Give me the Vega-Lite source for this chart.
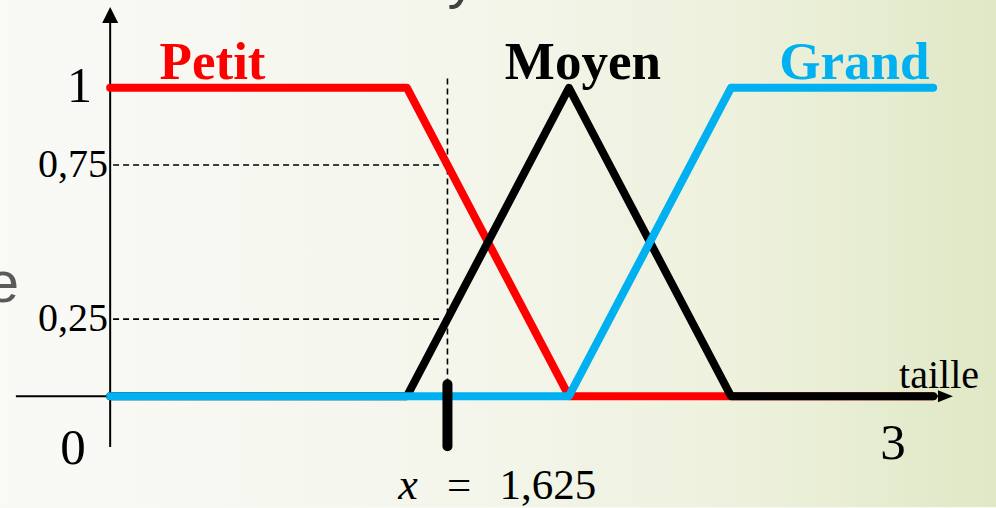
{
  "$schema": "https://vega.github.io/schema/vega-lite/v6.json",
  "width": 996,
  "height": 508,
  "autosize": {"type": "fit", "contains": "padding"},
  "padding": 0,
  "background": "#f8f9f4",
  "config": {
    "view": {
      "stroke": null,
      "fill": {
        "gradient": "linear",
        "x1": 0, "y1": 0.5, "x2": 1, "y2": 0.5,
        "stops": [
          {"offset": 0, "color": "#f9faf6"},
          {"offset": 0.45, "color": "#f4f6ec"},
          {"offset": 0.75, "color": "#edf1dc"},
          {"offset": 1, "color": "#e0e8c6"}
        ]
      }
    }
  },
  "datasets": {
    "curves": [
      {"set": "Petit", "x": 0.584, "y": 1},
      {"set": "Petit", "x": 1.5, "y": 1},
      {"set": "Petit", "x": 2.0, "y": 0},
      {"set": "Petit", "x": 3.124, "y": 0},
      {"set": "Moyen", "x": 0.584, "y": 0},
      {"set": "Moyen", "x": 1.5, "y": 0},
      {"set": "Moyen", "x": 2.0, "y": 1},
      {"set": "Moyen", "x": 2.5, "y": 0},
      {"set": "Moyen", "x": 3.124, "y": 0},
      {"set": "Grand", "x": 0.584, "y": 0},
      {"set": "Grand", "x": 2.0, "y": 0},
      {"set": "Grand", "x": 2.5, "y": 1},
      {"set": "Grand", "x": 3.124, "y": 1}
    ]
  },
  "encoding": {
    "x": {"field": "x", "type": "quantitative", "scale": {"domain": [0.244, 3.318], "nice": false, "zero": false}, "axis": null},
    "y": {"field": "y", "type": "quantitative", "scale": {"domain": [-0.3592, 1.2848], "nice": false, "zero": false}, "axis": null}
  },
  "layer": [
    {
      "data": {"values": [{"x": 0.293, "x2": 3.16, "y": 0}]},
      "mark": {"type": "rule", "color": "#000000", "strokeWidth": 2},
      "encoding": {"x2": {"field": "x2"}}
    },
    {
      "data": {"values": [{"x": 0.584, "y": -0.165, "y2": 1.236}]},
      "mark": {"type": "rule", "color": "#000000", "strokeWidth": 2},
      "encoding": {"y2": {"field": "y2"}}
    },
    {
      "data": {"values": [{"x": 0.584, "y": 1.236}]},
      "mark": {"type": "point", "shape": "M0,-1L1,1L-1,1Z", "size": 256, "filled": true, "color": "#000000", "opacity": 1, "strokeWidth": 0}
    },
    {
      "data": {"values": [{"x": 3.162, "y": 0}]},
      "mark": {"type": "point", "shape": "M1,0L-1,-0.8L-1,0.8Z", "size": 225, "filled": true, "color": "#000000", "opacity": 1, "strokeWidth": 0}
    },
    {
      "data": {"values": [{"x": 0.593, "x2": 1.625, "y": 0.75}, {"x": 0.593, "x2": 1.625, "y": 0.25}]},
      "mark": {"type": "rule", "color": "#000000", "strokeWidth": 1.6, "strokeDash": [6, 4]},
      "encoding": {"x2": {"field": "x2"}}
    },
    {
      "data": {"values": [{"x": 1.625, "y": 1.03, "y2": 0.04}]},
      "mark": {"type": "rule", "color": "#000000", "strokeWidth": 1.6, "strokeDash": [6, 4]},
      "encoding": {"y2": {"field": "y2"}}
    },
    {
      "data": {"name": "curves"},
      "transform": [{"filter": "datum.set === 'Petit'"}],
      "mark": {"type": "line", "strokeWidth": 8, "strokeCap": "round", "strokeJoin": "round"},
      "encoding": {
        "order": {"field": "x", "type": "quantitative"},
        "color": {"field": "set", "type": "nominal", "scale": {"domain": ["Petit", "Moyen", "Grand"], "range": ["#ff0000", "#000000", "#00b0f0"]}, "legend": null}
      }
    },
    {
      "data": {"name": "curves"},
      "transform": [{"filter": "datum.set === 'Moyen'"}],
      "mark": {"type": "line", "strokeWidth": 8, "strokeCap": "round", "strokeJoin": "round"},
      "encoding": {
        "order": {"field": "x", "type": "quantitative"},
        "color": {"field": "set", "type": "nominal", "scale": {"domain": ["Petit", "Moyen", "Grand"], "range": ["#ff0000", "#000000", "#00b0f0"]}, "legend": null}
      }
    },
    {
      "data": {"name": "curves"},
      "transform": [{"filter": "datum.set === 'Grand'"}],
      "mark": {"type": "line", "strokeWidth": 8, "strokeCap": "round", "strokeJoin": "round"},
      "encoding": {
        "order": {"field": "x", "type": "quantitative"},
        "color": {"field": "set", "type": "nominal", "scale": {"domain": ["Petit", "Moyen", "Grand"], "range": ["#ff0000", "#000000", "#00b0f0"]}, "legend": null}
      }
    },
    {
      "data": {"values": [{"x": 1.625, "y": 0.039, "y2": -0.162}]},
      "mark": {"type": "rule", "color": "#000000", "strokeWidth": 10, "strokeCap": "round"},
      "encoding": {"y2": {"field": "y2"}}
    },
    {
      "data": {"values": [
        {"set": "Petit", "x": 0.900, "y": 1.029},
        {"set": "Moyen", "x": 2.043, "y": 1.029},
        {"set": "Grand", "x": 2.881, "y": 1.029}
      ]},
      "mark": {"type": "text", "font": "Liberation Serif", "fontSize": 53, "fontWeight": "bold", "align": "center", "baseline": "alphabetic"},
      "encoding": {
        "text": {"field": "set"},
        "color": {"field": "set", "type": "nominal", "scale": {"domain": ["Petit", "Moyen", "Grand"], "range": ["#ff0000", "#000000", "#00b0f0"]}, "legend": null}
      }
    },
    {
      "data": {"values": [{"label": "1", "x": 0.528, "y": 0.955}]},
      "mark": {"type": "text", "font": "Liberation Serif", "fontSize": 50, "align": "right", "baseline": "alphabetic", "color": "#000000"},
      "encoding": {"text": {"field": "label"}}
    },
    {
      "data": {"values": [{"label": "0,75", "x": 0.577, "y": 0.75}, {"label": "0,25", "x": 0.577, "y": 0.25}]},
      "mark": {"type": "text", "font": "Liberation Serif", "fontSize": 40, "align": "right", "baseline": "middle", "color": "#000000"},
      "encoding": {"text": {"field": "label"}}
    },
    {
      "data": {"values": [{"label": "0", "x": 0.469, "y": -0.22}, {"label": "3", "x": 3.0, "y": -0.204}]},
      "mark": {"type": "text", "font": "Liberation Serif", "fontSize": 51, "align": "center", "baseline": "alphabetic", "color": "#000000"},
      "encoding": {"text": {"field": "label"}}
    },
    {
      "data": {"values": [{"label": "taille", "x": 3.019, "y": 0.026}]},
      "mark": {"type": "text", "font": "Liberation Serif", "fontSize": 40, "align": "left", "baseline": "alphabetic", "color": "#000000"},
      "encoding": {"text": {"field": "label"}}
    },
    {
      "data": {"values": [{"label": "x", "x": 1.503, "y": -0.333}]},
      "mark": {"type": "text", "font": "Liberation Serif", "fontSize": 44, "fontStyle": "italic", "align": "center", "baseline": "alphabetic", "color": "#000000"},
      "encoding": {"text": {"field": "label"}}
    },
    {
      "data": {"values": [{"label": "=", "x": 1.661, "y": -0.333}, {"label": "1,625", "x": 1.935, "y": -0.333}]},
      "mark": {"type": "text", "font": "Liberation Serif", "fontSize": 43, "align": "center", "baseline": "alphabetic", "color": "#000000"},
      "encoding": {"text": {"field": "label"}}
    },
    {
      "data": {"values": [{"label": "e", "x": 0.3027, "y": 0.307}]},
      "mark": {"type": "text", "font": "Liberation Sans", "fontSize": 58, "align": "right", "baseline": "alphabetic", "color": "#5a5a5a", "clip": true},
      "encoding": {"text": {"field": "label"}}
    },
    {
      "data": {"values": [{"label": "y", "x": 1.67, "y": 1.294}]},
      "mark": {"type": "text", "font": "Liberation Sans", "fontSize": 58, "align": "center", "baseline": "alphabetic", "color": "#404040", "clip": true},
      "encoding": {"text": {"field": "label"}}
    }
  ]
}
